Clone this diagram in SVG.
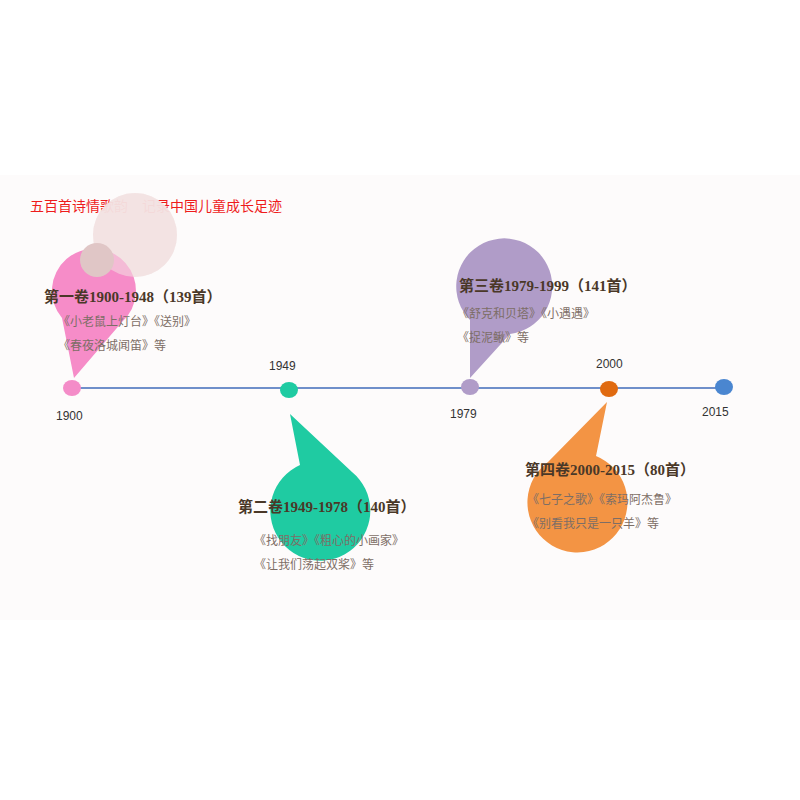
<svg xmlns="http://www.w3.org/2000/svg" width="800" height="800" viewBox="0 0 800 800">
<style>
.t{font-family:"Liberation Serif","Noto Sans CJK SC",serif;font-size:15px;font-weight:bold;fill:#4a3828}
.s{font-family:"Liberation Sans","Noto Sans CJK SC",sans-serif;font-size:12px;fill:#7d6e66}
.y{font-family:"Liberation Sans","Noto Sans CJK SC",sans-serif;font-size:12px;fill:#333}
</style>
<rect width="800" height="800" fill="#fff"/>
<rect x="0" y="175" width="800" height="445" fill="#fdfbfb"/>
<text x="30" y="211" font-family="Liberation Sans,Noto Sans CJK SC,sans-serif" font-size="14" fill="#ee1c1c">五百首诗情歌韵　记录中国儿童成长足迹</text>
<g id="connectors"><line x1="72" y1="388" x2="724" y2="388" stroke="#6f8fca" stroke-width="2"/></g>
<g id="v1">
<circle cx="135" cy="235" r="42" fill="#f3e2e2" opacity="0.9"/>
<path d="M74 378 L62 318 A42 42 0 1 1 122 322 Z" fill="#f68cc8"/>
<circle cx="135" cy="235" r="42" fill="#f3e2e2" opacity="0.55"/>
<circle cx="97" cy="260" r="17" fill="#e0c6c6"/>
<text class="t" x="44" y="302">第一卷1900-1948（139首）</text>
<text class="s" x="58" y="326">《小老鼠上灯台》《送别》</text>
<text class="s" x="58" y="350">《春夜洛城闻笛》等</text>
</g>
<g id="v2">
<path d="M290 414 L300 465 A50 50 0 1 0 352 472 Z" fill="#1fcba2"/>
<text class="t" x="238" y="512">第二卷1949-1978（140首）</text>
<text class="s" x="254" y="545">《找朋友》《粗心的小画家》</text>
<text class="s" x="254" y="569">《让我们荡起双桨》等</text>
</g>
<g id="v3">
<path d="M470 378 L470 320 A48 48 0 1 1 510 334 Z" fill="#b09cc8"/>
<text class="t" x="459" y="291">第三卷1979-1999（141首）</text>
<text class="s" x="457" y="318">《舒克和贝塔》《小遇遇》</text>
<text class="s" x="457" y="342">《捉泥鳅》等</text>
</g>
<g id="v4">
<path d="M607 402 L596 456 A50 50 0 1 1 548 462 Z" fill="#f39444"/>
<text class="t" x="525" y="475">第四卷2000-2015（80首）</text>
<text class="s" x="527" y="504">《七子之歌》《索玛阿杰鲁》</text>
<text class="s" x="527" y="528">《别看我只是一只羊》等</text>
</g>
<g id="n1900"><ellipse cx="72" cy="388" rx="9" ry="8" fill="#f48cc8"/><text class="y" x="56" y="420">1900</text></g>
<g id="n1949"><ellipse cx="289" cy="390" rx="9" ry="8" fill="#1fcba2"/><text class="y" x="269" y="370">1949</text></g>
<g id="n1979"><ellipse cx="470" cy="387" rx="9" ry="8" fill="#b09cc8"/><text class="y" x="450" y="418">1979</text></g>
<g id="n2000"><ellipse cx="609" cy="389" rx="9" ry="8" fill="#e06a10"/><text class="y" x="596" y="368">2000</text></g>
<g id="n2015"><ellipse cx="724" cy="387" rx="9" ry="8" fill="#4a86d0"/><text class="y" x="702" y="416">2015</text></g>
</svg>
